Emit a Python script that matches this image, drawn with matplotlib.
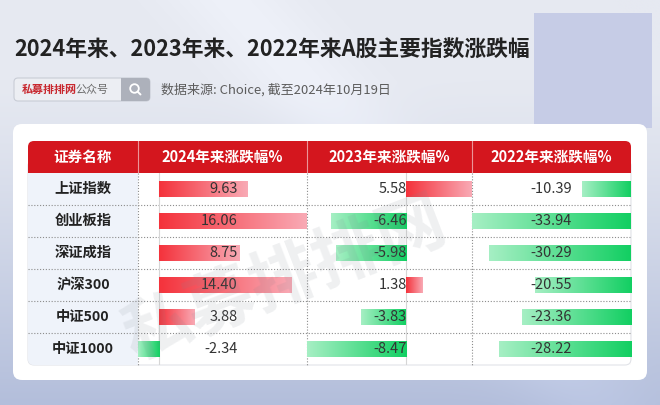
import numpy as np
import matplotlib
matplotlib.use('Agg')
import matplotlib.pyplot as plt
from matplotlib.patches import FancyBboxPatch, Rectangle, Circle
from matplotlib.colors import to_rgb

plt.rcParams['font.family'] = ['Noto Sans CJK SC', 'DejaVu Sans']

# ---------------- data ----------------
title = '2024年来、2023年来、2022年来A股主要指数涨跌幅'
source = '数据来源: Choice, 截至2024年10月19日'
brand = '私募排排网'
brand_suffix = '公众号'
names = ['上证指数', '创业板指', '深证成指', '沪深300', '中证500', '中证1000']
headers = ['证券名称', '2024年来涨跌幅%', '2023年来涨跌幅%', '2022年来涨跌幅%']
chg_2024 = [9.63, 16.06, 8.75, 14.40, 3.88, -2.34]
chg_2023 = [5.58, -6.46, -5.98, 1.38, -3.83, -8.47]
chg_2022 = [-10.39, -33.94, -30.29, -20.55, -23.36, -28.22]
columns = [chg_2024, chg_2023, chg_2022]

# ---------------- layout ----------------
W, H = 660, 405
fig = plt.figure(figsize=(W / 100, H / 100), dpi=100)
bg = fig.add_axes([0, 0, 1, 1])
bg.set_xlim(0, W)
bg.set_ylim(H, 0)
bg.axis('off')

# background gradient
ny, nx = 200, 120
yy = np.linspace(0, 1, ny)[:, None]
xx = np.linspace(0, 1, nx)[None, :]
top = np.array(to_rgb('#e6e9f1'))
bot = np.array(to_rgb('#b3bedb'))
t = np.clip((yy - 0.2) / 0.8, 0, 1) ** 1.2
img = top[None, None, :] * (1 - t[..., None]) + bot[None, None, :] * t[..., None]
img = img * np.ones((ny, nx, 1))
streak = np.exp(-((xx * 1.0 - yy * 0.55 - 0.35) ** 2) / 0.01)
img = np.clip(img + 0.03 * streak[..., None], 0, 1)
bg.imshow(img, extent=[0, W, H, 0], aspect='auto', interpolation='bilinear', zorder=0)
bg.set_xlim(0, W)
bg.set_ylim(H, 0)

# lavender box top right
bg.add_patch(Rectangle((534, 13), 118, 115, fc='#c6cce6', ec='none', zorder=1))

# white card
bg.add_patch(FancyBboxPatch((13, 124), 634, 256, boxstyle='round,pad=0,rounding_size=9',
                            fc='white', ec='none', zorder=2))

# title
bg.text(14, 50, title, fontsize=15.7, weight='heavy', color='#222222',
        ha='left', va='center', zorder=3)

# search-box element
bg.add_patch(FancyBboxPatch((14, 78), 136, 23, boxstyle='round,pad=0,rounding_size=4',
                            fc='#eceef3', ec='#c9cdd6', lw=0.8, zorder=3))
bg.add_patch(FancyBboxPatch((121, 78), 29, 23, boxstyle='round,pad=0,rounding_size=4',
                            fc='#adb1bb', ec='none', zorder=4))
bg.add_patch(Rectangle((121, 78), 6, 23, fc='#adb1bb', ec='none', zorder=4))
bg.add_patch(Circle((134.5, 88.5), 4.3, fill=False, ec='white', lw=1.3, zorder=5))
bg.plot([137.6, 140.5], [91.6, 94.5], color='white', lw=1.4, zorder=5, solid_capstyle='round')
t_brand = bg.text(22, 89.5, brand, fontsize=7.9, weight='bold', color='#c8282f',
                  ha='left', va='center', zorder=5)
fig.canvas.draw()
bb = t_brand.get_window_extent(fig.canvas.get_renderer())
bg.text(bb.x1 - 1.5, 89.5, brand_suffix, fontsize=7.9, color='#6a6a6a',
        ha='left', va='center', zorder=5)
bg.text(161, 89.5, source, fontsize=9.4, color='#5c5c5c', ha='left', va='center', zorder=5)

# table geometry
L, R = 28, 631
h_top, h_bot = 141, 173
row_h = 32
n = len(names)
row_edges = [h_bot + i * row_h for i in range(n + 1)]
col_edges = [L, 138, 307, 472, R]
T_bot = row_edges[-1]

# body
body = FancyBboxPatch((L, 160), R - L, T_bot - 160, boxstyle='round,pad=0,rounding_size=6',
                      fc='white', ec='#e1e3e8', lw=0.8, zorder=3)
bg.add_patch(body)
namebg = Rectangle((L, h_bot), col_edges[1] - L, T_bot - h_bot, fc='#eff3fa', ec='none', zorder=3.1)
bg.add_patch(namebg)
namebg.set_clip_path(body)

# header
bg.add_patch(FancyBboxPatch((L, h_top), R - L, h_bot - h_top, boxstyle='round,pad=0,rounding_size=6',
                            fc='#d4161e', ec='none', zorder=4))
bg.add_patch(Rectangle((L, (h_top + h_bot) / 2), R - L, (h_bot - h_top) / 2,
                       fc='#d4161e', ec='none', zorder=4))
for x in col_edges[1:-1]:
    bg.plot([x, x], [h_top, h_bot], color='white', alpha=0.55, lw=0.8, zorder=5)
for j, hd in enumerate(headers):
    cx = (col_edges[j] + col_edges[j + 1]) / 2
    bg.text(cx, (h_top + h_bot) / 2, hd, fontsize=10.5, weight='bold', color='white',
            ha='center', va='center', zorder=6)

# dotted grid
for y in row_edges[1:-1]:
    bg.plot([L, R], [y, y], color='#8c8c8c', lw=0.8, ls=(0, (1, 1.6)), zorder=5)
for x in col_edges[1:-1]:
    bg.plot([x, x], [h_bot, T_bot], color='#8c8c8c', lw=0.8, ls=(0, (1, 1.6)), zorder=5)

# names
for i, nm in enumerate(names):
    cy = (row_edges[i] + row_edges[i + 1]) / 2
    bg.text((col_edges[0] + col_edges[1]) / 2, cy, nm, fontsize=10.3, weight='bold',
            color='#222222', ha='center', va='center', zorder=6)


def gradient(c_dark, c_light, N=256):
    a = np.array(to_rgb(c_dark))
    b = np.array(to_rgb(c_light))
    s = np.linspace(0, 1, N)[:, None]
    return (a * (1 - s) + b * s)[None, :, :]


g_pos = gradient('#f4323b', '#f9aab5')
g_neg = gradient('#12cf62', '#a6efc4')

rows = np.arange(n)
for j, vals in enumerate(columns):
    x0, x1 = col_edges[j + 1], col_edges[j + 2]
    ax = fig.add_axes([x0 / W, 1 - T_bot / H, (x1 - x0) / W, (T_bot - h_bot) / H])
    ax.axis('off')
    ax.patch.set_alpha(0)
    lo, hi = min(0, min(vals)), max(0, max(vals))
    bars = ax.barh(rows, vals, height=0.5, color='none', edgecolor='none')
    for b, v in zip(bars, vals):
        yb = b.get_y()
        ax.imshow(g_pos if v > 0 else g_neg, extent=[0, v, yb + b.get_height(), yb],
                  aspect='auto', interpolation='bilinear', zorder=2)
    ax.axvline(0, color='#d6d6d6', lw=0.8, zorder=1)
    for i, v in enumerate(vals):
        ax.annotate(f'{v:.2f}', xy=(0, i), xycoords=('axes fraction', 'data'),
                    xytext=(100, 0), textcoords='offset pixels', ha='right', va='center',
                    fontsize=10.5, weight='light', color='#333333', zorder=5)
    ax.set_xlim(lo, hi)
    ax.set_ylim(n - 0.5, -0.5)

# watermark
fig.text(285 / W, 1 - 280 / H, brand, rotation=21, fontsize=49, weight='bold',
         color='#7f8590', alpha=0.12, ha='center', va='center', zorder=10)

fig.savefig('out.png', dpi=100)
